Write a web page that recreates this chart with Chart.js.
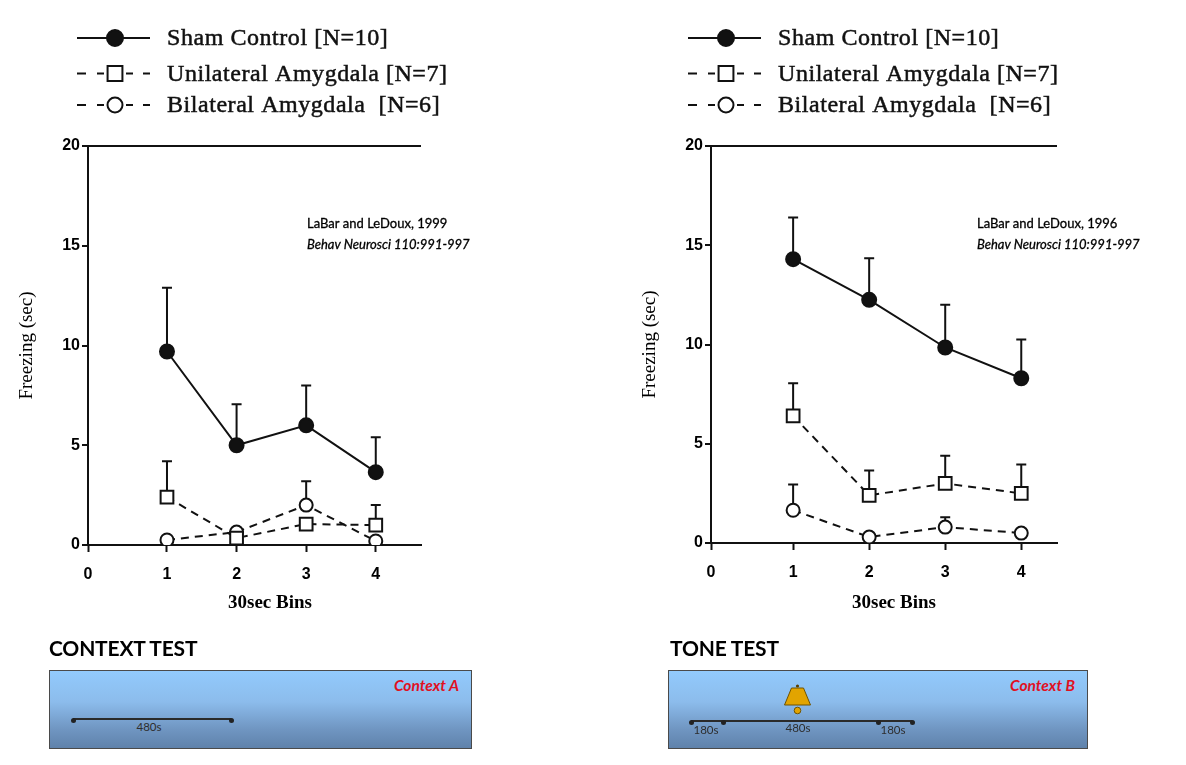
<!DOCTYPE html>
<html>
<head>
<meta charset="utf-8">
<script src="https://cdn.jsdelivr.net/npm/chart.js@4.4.1/dist/chart.umd.min.js"></script>
<style>
  body { margin: 0; background: #fff; width: 1186px; height: 765px; position: relative; overflow: hidden; font-family: Lato, sans-serif; }
  canvas.plot { position: absolute; top: 0; }
  #leftChart { left: 0; }
  #rightChart { left: 600px; }
  .heading { position: absolute; top: 635px; font-weight: 700; font-size: 21px; color: #000; letter-spacing: -0.2px; }
  .box { position: absolute; top: 670px; height: 79px; border: 1px solid #4a4a4a; box-sizing: border-box;
         background: linear-gradient(to bottom, #92cafc 0%, #8cbcec 40%, #7096c2 75%, #5f82ab 100%); }
  .ctxlabel { position: absolute; top: 5px; font-weight: 700; font-style: italic; font-size: 15.5px; color: #e0101f; }
  .tl { position: absolute; height: 2px; background: #2a2a2a; }
  .dot { position: absolute; width: 5px; height: 5px; border-radius: 50%; background: #222; margin: -1.5px 0 0 -2.5px; }
  .tlab { position: absolute; font-size: 11.5px; color: #2e2e2e; transform: translateX(-50%); }
</style>
</head>
<body>
<canvas id="leftChart" class="plot" width="590" height="640"></canvas>
<canvas id="rightChart" class="plot" width="586" height="640"></canvas>

<div class="heading" style="left:49px">CONTEXT TEST</div>
<div class="box" style="left:49px;width:423px">
  <div class="ctxlabel" style="right:12px">Context A</div>
  <div class="tl" style="left:23px;width:158px;top:47px"></div>
  <div class="dot" style="left:23px;top:48px"></div>
  <div class="dot" style="left:181px;top:48px"></div>
  <div class="tlab" style="left:99px;top:49px">480s</div>
</div>

<div class="heading" style="left:670px">TONE TEST</div>
<div class="box" style="left:668px;width:420px">
  <div class="ctxlabel" style="right:12px">Context B</div>
  <svg style="position:absolute;left:115px;top:13px" width="28" height="32" viewBox="0 0 28 32">
    <circle cx="13.5" cy="2" r="1.6" fill="#5a4000"/>
    <path d="M7.5 4 L19.5 4 L26.5 21 L0.5 21 Z" fill="#e2a400" stroke="#6e5200" stroke-width="1"/>
    <circle cx="13.5" cy="26.5" r="3.3" fill="#e2a400" stroke="#6e5200" stroke-width="1"/>
  </svg>
  <div class="tl" style="left:22px;width:221px;top:49px"></div>
  <div class="dot" style="left:22px;top:50px"></div>
  <div class="dot" style="left:54px;top:50px"></div>
  <div class="dot" style="left:209px;top:50px"></div>
  <div class="dot" style="left:243px;top:50px"></div>
  <div class="tlab" style="left:37px;top:52px">180s</div>
  <div class="tlab" style="left:129px;top:50px">480s</div>
  <div class="tlab" style="left:224px;top:52px">180s</div>
</div>

<script>
// ---- data ----
const bins = [1, 2, 3, 4];
const xTickValues = [0, 1, 2, 3, 4];
const xTickLabels = ["0", "1", "2", "3", "4"];
const yTicks = [0, 5, 10, 15, 20];
const seriesLabels = ["Sham Control [N=10]", "Unilateral Amygdala [N=7]", "Bilateral Amygdala  [N=6]"];

// context test (left)
const shamContext = [9.7, 5.0, 6.0, 3.65];
const shamContextTop = [12.9, 7.05, 8.0, 5.4];
const uniContext = [2.4, 0.35, 1.05, 1.0];
const uniContextTop = [4.2, null, null, 2.0];
const bilatContext = [0.25, 0.65, 2.0, 0.2];
const bilatContextTop = [null, null, 3.2, null];

// tone test (right)
const shamTone = [14.3, 12.25, 9.85, 8.3];
const shamToneTop = [16.4, 14.35, 12.0, 10.25];
const uniTone = [6.4, 2.4, 3.0, 2.5];
const uniToneTop = [8.05, 3.65, 4.4, 3.95];
const bilatTone = [1.65, 0.3, 0.8, 0.5];
const bilatToneTop = [2.95, null, 1.3, null];

const citeContext = ["LaBar and LeDoux, 1999", "Behav Neurosci 110:991-997"];
const citeTone = ["LaBar and LeDoux, 1996", "Behav Neurosci 110:991-997"];
const xTitle = "30sec Bins";

Chart.defaults.font.family = '"Liberation Sans", Arial, sans-serif';
Chart.defaults.color = "#000";

const pts = (vals) => vals.map((v, i) => ({ x: bins[i], y: v }));

function makeDatasets(sham, shamTop, uni, uniTop, bil, bilTop) {
  const common = { borderColor: "#111", pointBorderColor: "#111", pointBorderWidth: 2, borderWidth: 2, tension: 0 };
  return [
    { ...common, label: seriesLabels[0], data: pts(sham), errTop: shamTop,
      pointStyle: "circle", pointRadius: 7, pointBackgroundColor: "#111", legendRadius: 8 },
    { ...common, label: seriesLabels[1], data: pts(uni), errTop: uniTop, borderDash: [8, 6],
      pointStyle: "rect", pointRadius: 9, pointBackgroundColor: "#fff", legendRadius: 10.5 },
    { ...common, label: seriesLabels[2], data: pts(bil), errTop: bilTop, borderDash: [8, 6],
      pointStyle: "circle", pointRadius: 6.5, pointBackgroundColor: "#fff", legendRadius: 7.5 },
  ];
}

// upward-only SEM bars with a T cap
const errorBars = {
  id: "errorBars",
  beforeDatasetsDraw(chart) {
    const { ctx, scales: { x, y } } = chart;
    ctx.save();
    ctx.strokeStyle = "#111";
    ctx.lineWidth = 2;
    chart.data.datasets.forEach((ds) => {
      (ds.errTop || []).forEach((top, i) => {
        if (top == null) return;
        const px = x.getPixelForValue(ds.data[i].x);
        const py = y.getPixelForValue(ds.data[i].y);
        const pt = y.getPixelForValue(top);
        ctx.beginPath();
        ctx.moveTo(px, py);
        ctx.lineTo(px, pt);
        ctx.moveTo(px - 5, pt);
        ctx.lineTo(px + 5, pt);
        ctx.stroke();
      });
    });
    ctx.restore();
  },
};

// legend key segments ("- -o- -" look of the original figure)
const dashedKey = [[0, 9], [20, 27], [49, 56], [66, 73]];

// old-style legend above the plot, citation text and the x title
const figDecor = {
  id: "figDecor",
  afterDraw(chart, args, opts) {
    const { ctx } = chart;
    ctx.save();
    chart.data.datasets.forEach((ds, i) => {
      const y = opts.rowsY[i];
      const x0 = opts.legendX;
      ctx.strokeStyle = "#111";
      ctx.lineWidth = 2;
      ctx.beginPath();
      for (const [a, b] of ds.borderDash ? dashedKey : [[0, 73]]) {
        ctx.moveTo(x0 + a, y);
        ctx.lineTo(x0 + b, y);
      }
      ctx.stroke();
      ctx.fillStyle = ds.pointBackgroundColor;
      ctx.strokeStyle = ds.pointBorderColor;
      ctx.lineWidth = 2;
      Chart.helpers.drawPoint(ctx, { pointStyle: ds.pointStyle, radius: ds.legendRadius, borderWidth: 2, rotation: 0 }, x0 + 38, y);
      ctx.fillStyle = "#111";
      ctx.strokeStyle = "#111";
      ctx.lineWidth = 0.5;
      ctx.font = '24px "Liberation Serif", serif';
      ctx.letterSpacing = "0.55px";
      ctx.textBaseline = "middle";
      ctx.fillText(ds.label, x0 + 90, y + 1);
      ctx.strokeText(ds.label, x0 + 90, y + 1);
      ctx.letterSpacing = "0px";
    });
    ctx.fillStyle = "#000";
    ctx.strokeStyle = "#000";
    ctx.lineWidth = 0.3;
    ctx.textBaseline = "middle";
    ctx.font = '13px Lato, sans-serif';
    ctx.fillText(opts.cite[0], opts.citeX, 224);
    ctx.strokeText(opts.cite[0], opts.citeX, 224);
    ctx.font = 'italic 13px Lato, sans-serif';
    ctx.fillText(opts.cite[1], opts.citeX, 245);
    ctx.strokeText(opts.cite[1], opts.citeX, 245);
    ctx.font = 'bold 19px "Liberation Serif", serif';
    ctx.textAlign = "center";
    ctx.fillText(xTitle, opts.xTitleX, 603);
    ctx.restore();
  },
};

function makeChart(id, datasets, xmin, xmax, pad, decor) {
  return new Chart(document.getElementById(id), {
    type: "line",
    data: { datasets },
    plugins: [errorBars, figDecor],
    options: {
      responsive: false,
      animation: false,
      devicePixelRatio: 1,
      layout: { padding: pad },
      plugins: { legend: { display: false }, tooltip: { enabled: false }, figDecor: decor },
      scales: {
        x: {
          type: "linear",
          min: xmin,
          max: xmax,
          afterBuildTicks: (s) => { s.ticks = xTickValues.map((v) => ({ value: v === 0 ? xmin : v })); },
          afterFit: (s) => { s.height = 75; },
          ticks: { callback: (v, i) => xTickLabels[i], font: { size: 16, weight: "bold" }, padding: 13, maxRotation: 0, autoSkip: false },
          grid: { drawOnChartArea: false, tickLength: 7, tickColor: "#111", tickWidth: 2 },
          border: { color: "#111", width: 2 },
        },
        y: {
          min: 0,
          max: 20,
          afterBuildTicks: (s) => { s.ticks = yTicks.map((v) => ({ value: v })); },
          afterFit: (s) => { s.width = 74; },
          ticks: { font: { size: 16, weight: "bold" }, padding: 2 },
          grid: { color: (c) => (c.tick && c.tick.value === 20 ? "#111" : "rgba(0,0,0,0)"), lineWidth: 2, tickLength: 6, tickColor: "#111", tickWidth: 2 },
          border: { color: "#111", width: 2 },
          title: { display: true, text: "Freezing (sec)", font: { family: '"Liberation Serif", serif', size: 19 }, padding: { top: 2, bottom: 0 } },
        },
      },
    },
  });
}

makeChart("leftChart",
  makeDatasets(shamContext, shamContextTop, uniContext, uniContextTop, bilatContext, bilatContextTop),
  -0.135, 4.65, { top: 146, left: 14, right: 169, bottom: 20 },
  { legendX: 77, rowsY: [38, 73.5, 105], cite: citeContext, citeX: 307, xTitleX: 270 });

makeChart("rightChart",
  makeDatasets(shamTone, shamToneTop, uniTone, uniToneTop, bilatTone, bilatToneTop),
  -0.08, 4.47, { top: 146, left: 37, right: 129, bottom: 22 },
  { legendX: 88, rowsY: [38, 73.5, 105], cite: citeTone, citeX: 377, xTitleX: 294 });
</script>
</body>
</html>
